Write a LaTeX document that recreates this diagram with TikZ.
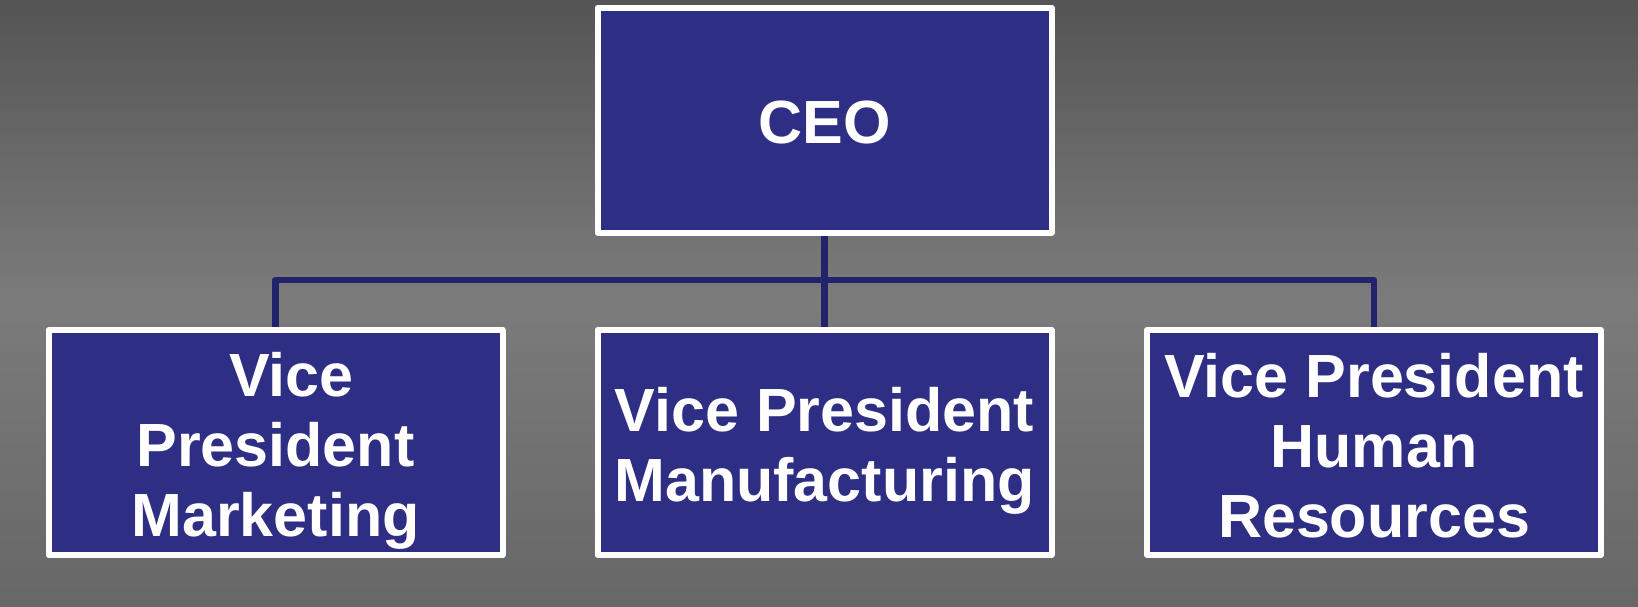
\documentclass[tikz,border=0pt]{standalone}
\usepackage{fontspec}
\setmainfont{Liberation Sans}
\usetikzlibrary{backgrounds}
\definecolor{bgtop}{HTML}{555555}
\definecolor{bgmid}{HTML}{7B7B7B}
\definecolor{bgbot}{HTML}{676767}
\definecolor{boxfill}{HTML}{2E2E84}
\definecolor{linknavy}{HTML}{23236B}
\tikzset{
  orgbox/.style={draw=white, fill=boxfill, line width=3pt, line join=round,
    minimum width=227pt, minimum height=112.5pt, inner sep=0pt},
  orgtext/.style={text=white, font=\fontsize{30.5pt}{35pt}\selectfont\bfseries,
    align=center, inner sep=0pt},
  link/.style={draw=linknavy, line width=3.3pt, line join=round}
}
\begin{document}
\begin{tikzpicture}[x=0.5pt,y=-0.5pt]
\useasboundingbox (0,0) rectangle (1638,606);
% boxes
\node[orgbox] (ceo) at (824.5,120) {};
\node[orgbox] (mkt) at (275.5,442.5) {};
\node[orgbox] (mfg) at (824.5,442.5) {};
\node[orgbox] (hr)  at (1374,442.5) {};
% texts
\node[orgtext, yshift=-1pt] (tceo) at (ceo.center) {CEO};
\node[orgtext, yshift=-4pt] (tmkt) at (mkt.center) {\hspace*{16pt}Vice\\President\\Marketing};
\node[orgtext, yshift=-4pt] (tmfg) at (mfg.center) {Vice President\\Manufacturing};
\node[orgtext, yshift=-1.5pt] (thr) at (hr.center) {Vice President\\Human\\Resources};
\coordinate (bus) at (824.5,280);
\begin{scope}[on background layer]
  % vertical gradient background, drawn as thin strips
  \foreach \i in {0,...,49}{
    \pgfmathtruncatemacro{\p}{round(\i*100/49)}
    \colorlet{stripc}{bgmid!\p!bgtop}
    \fill[stripc] (0,\i*6) rectangle (1638,\i*6+7);
  }
  \foreach \i in {0,...,51}{
    \pgfmathtruncatemacro{\p}{round(\i*100/51)}
    \colorlet{stripc}{bgbot!\p!bgmid}
    \fill[stripc] (0,300+\i*6) rectangle (1638,300+\i*6+7);
  }
  \draw[link] (ceo.south) -- (mfg.north);
  \draw[link] (mkt.north) |- (bus) -| (hr.north);
\end{scope}
\end{tikzpicture}
\end{document}
